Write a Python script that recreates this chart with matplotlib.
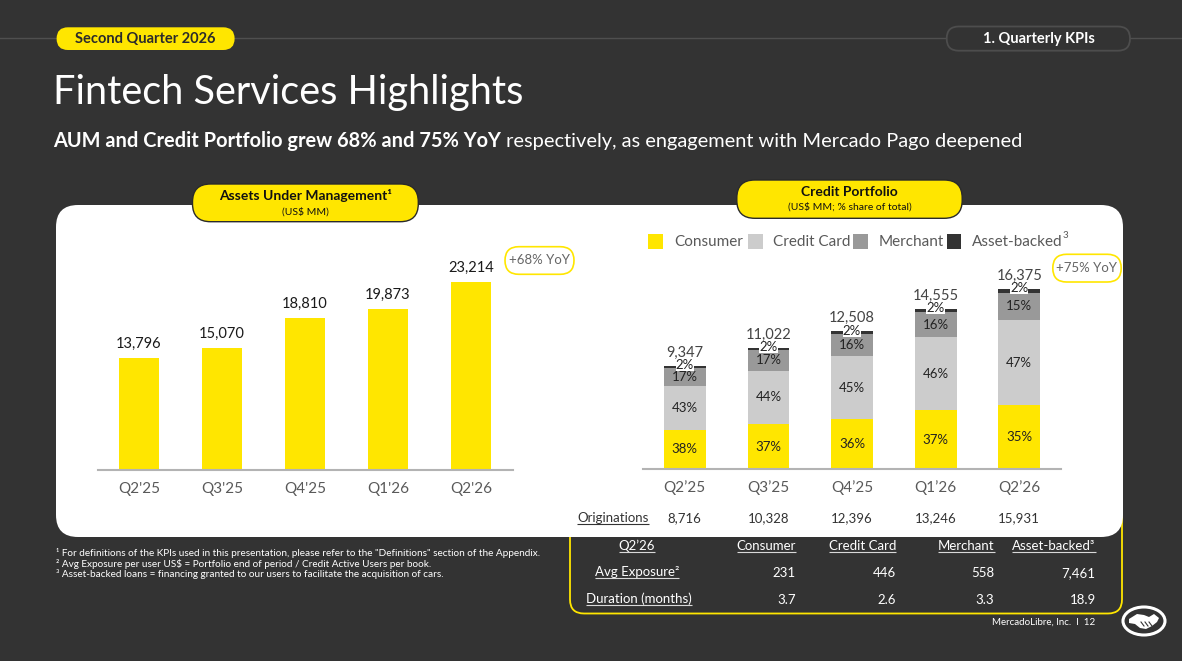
import matplotlib
matplotlib.use('Agg')
import matplotlib.pyplot as plt
from matplotlib.patches import FancyBboxPatch, Rectangle, Ellipse, Polygon
from matplotlib.transforms import blended_transform_factory
import numpy as np

# ---------------- data ----------------
aum_quarters = ["Q2'25", "Q3'25", "Q4'25", "Q1'26", "Q2'26"]
aum_values = [13796, 15070, 18810, 19873, 23214]

credit_quarters = ["Q2\u201925", "Q3\u201925", "Q4\u201925", "Q1\u201926", "Q2\u201926"]
credit_totals = [9347, 11022, 12508, 14555, 16375]
consumer_pct = [38, 37, 36, 37, 35]
card_pct = [43, 44, 45, 46, 47]
merchant_pct = [17, 17, 16, 16, 15]
asset_pct = [2, 2, 2, 2, 2]
originations = [8716, 10328, 12396, 13246, 15931]

segment_names = ["Consumer", "Credit Card", "Merchant", "Asset-backed"]

table_header = "Q2\u201926"
table_cols = ["Consumer", "Credit Card", "Merchant", "Asset-backed\u00b3"]
table_rows = ["Avg Exposure\u00b2", "Duration (months)"]
avg_exposure = ["231", "446", "558", "7,461"]
duration = ["3.7", "2.6", "3.3", "18.9"]

footnotes = [
    "\u00b9 For definitions of the KPIs used in this presentation, please refer to the \"Definitions\" section of the Appendix.",
    "\u00b2 Avg Exposure per user US$ = Portfolio end of period / Credit Active Users per book.",
    "\u00b3 Asset-backed loans = financing granted to our users to facilitate the acquisition of cars.",
]

# ---------------- style ----------------
W, H, DPI = 1182, 661, 100
BG = '#333333'
YEL = '#FFE600'
CARD = '#CCCCCC'
MERCH = '#999999'
ASSET = '#333333'
DARK = '#1a1a1a'
TICK = '#595959'
seg_colors = [YEL, CARD, MERCH, ASSET]

plt.rcParams['font.family'] = ['Lato', 'DejaVu Sans']

fig = plt.figure(figsize=(W / DPI, H / DPI), dpi=DPI, facecolor=BG)
ov = fig.add_axes([0, 0, 1, 1], zorder=0)
ov.set_xlim(0, W)
ov.set_ylim(H, 0)
ov.axis('off')
renderer = fig.canvas.get_renderer()


def ext(t):
    bb = t.get_window_extent(renderer)
    return bb.x0, bb.x1, H - bb.y1, H - bb.y0


def rbox(x0, y0, x1, y1, r, fc, ec='none', lw=0, z=1):
    p = FancyBboxPatch((x0, y0), x1 - x0, y1 - y0,
                       boxstyle=f"round,pad=0,rounding_size={r}",
                       fc=fc, ec=ec, lw=lw, zorder=z)
    ov.add_patch(p)
    return p


def underline(t, yoff, color, lw=0.8):
    x0, x1, y0, y1 = ext(t)
    yc = (y0 + y1) / 2
    ov.plot([x0, x1], [yc + yoff, yc + yoff], color=color, lw=lw, zorder=t.get_zorder(),
            solid_capstyle='butt')


def fax(x0, y0, x1, y1):
    return [x0 / W, 1 - y1 / H, (x1 - x0) / W, (y1 - y0) / H]


# ---------------- header ----------------
ov.plot([0, W], [38.3, 38.3], color='#4f4f4f', lw=1.0, zorder=1)
rbox(56.6, 27.3, 234.6, 50, 11.3, YEL, z=3)
ov.text(145.6, 39.3, "Second Quarter 2026", fontsize=10.5, fontweight='bold', color='#2b2b2b',
        ha='center', va='center', zorder=4)
rbox(946.7, 26.5, 1130, 50.7, 12, BG, ec='#4d4d4d', lw=1.3, z=3)
ov.text(1038.5, 39.3, "1. Quarterly KPIs", fontsize=10.5, fontweight='bold', color='white',
        ha='center', va='center', zorder=4)

title = ov.text(52.8, 104, "Fintech Services Highlights", fontsize=28, color='white',
                va='baseline', ha='left', zorder=4)
x0, x1, _, _ = ext(title)
title.set_fontsize(28 * 472 / (x1 - x0))

sb = ov.text(52.8, 147, "AUM and Credit Portfolio grew 68% and 75% YoY", fontsize=12.5,
             fontweight='bold', color='white', va='baseline', ha='left', zorder=4)
sr = ov.text(0, 147, " respectively, as engagement with Mercado Pago deepened", fontsize=12.5,
             color='white', va='baseline', ha='left', zorder=4)
wb = ext(sb)[1] - ext(sb)[0]
wr = ext(sr)[1] - ext(sr)[0]
sc = 974 / (wb + wr)
sb.set_fontsize(12.5 * sc)
sr.set_fontsize(12.5 * sc)
sr.set_x(ext(sb)[1])

# ---------------- panels ----------------
rbox(570, 500, 1122, 613.5, 14, 'none', ec=YEL, lw=1.3, z=1)
rbox(56, 205, 1123, 537, 22, 'white', z=2)

rbox(192.5, 184, 418.3, 221.7, 18, YEL, ec='#2a2a2a', lw=1.0, z=3)
ov.text(305.5, 195.5, "Assets Under Management\u00b9", fontsize=10, fontweight='bold', color='#111111',
        ha='center', va='center', zorder=4)
ov.text(305.5, 211.5, "(US$ MM)", fontsize=7.5, color='#111111', ha='center', va='center', zorder=4)

rbox(736.8, 180, 962.2, 218.3, 18, YEL, ec='#2a2a2a', lw=1.0, z=3)
ov.text(849.5, 191.7, "Credit Portfolio", fontsize=10, fontweight='bold', color='#111111',
        ha='center', va='center', zorder=4)
ov.text(849.5, 207, "(US$ MM; % share of total)", fontsize=7.5, color='#111111',
        ha='center', va='center', zorder=4)

# YoY pills
rbox(505, 246.7, 574, 274.3, 13.8, 'white', ec=YEL, lw=1.2, z=3)
ov.text(539.5, 260.5, "+68% YoY", fontsize=9.5, color='#666666', ha='center', va='center', zorder=4)
rbox(1052.8, 254.3, 1121.2, 282, 13.8, 'white', ec=YEL, lw=1.2, z=3)
ov.text(1087, 268.2, "+75% YoY", fontsize=9.5, color='#666666', ha='center', va='center', zorder=4)

# ---------------- AUM chart ----------------
axl = fig.add_axes(fax(97.5, 240, 512.5, 470), zorder=5)
axl.patch.set_visible(False)
xl = np.arange(len(aum_values))
axl.bar(xl, aum_values, width=0.48, color=YEL, zorder=2)
for i, v in enumerate(aum_values):
    axl.annotate(f"{v:,}", (i, v), xytext=(0, 10), textcoords='offset points',
                 ha='center', va='center', fontsize=10.5, color=DARK)
axl.set_xlim(-0.5, len(aum_values) - 0.5)
axl.set_ylim(0, 230 / 0.0081)
axl.set_xticks(xl, aum_quarters)
axl.set_yticks([])
axl.tick_params(axis='x', length=0, pad=9, labelsize=11, labelcolor=TICK)
for s in ['left', 'right', 'top']:
    axl.spines[s].set_visible(False)
axl.spines['bottom'].set_color('#b3b3b3')
axl.spines['bottom'].set_linewidth(1.5)

# ---------------- Credit chart ----------------
axc = fig.add_axes(fax(643, 240, 1061, 469), zorder=5)
axc.patch.set_visible(False)
xc = np.arange(len(credit_totals))
pcts = np.array([consumer_pct, card_pct, merchant_pct, asset_pct], dtype=float)
totals = np.array(credit_totals, dtype=float)
segs = pcts / pcts.sum(axis=0) * totals
bottom = np.zeros(len(totals))
for k in range(4):
    axc.bar(xc, segs[k], bottom=bottom, width=0.5, color=seg_colors[k], zorder=2)
    for i in range(len(totals)):
        yc = bottom[i] + segs[k][i] / 2
        if k < 3:
            axc.text(i, yc, f"{int(pcts[k][i])}%", ha='center', va='center', fontsize=9.5,
                     color='#222222', zorder=5)
        else:
            axc.annotate(f"{int(pcts[k][i])}%", (i, yc), xytext=(0, 1.6), textcoords='offset points',
                         ha='center', va='center', fontsize=9.5, color='#222222', zorder=4,
                         bbox=dict(boxstyle='square,pad=0', fc='white', ec='none'))
    bottom = bottom + segs[k]
for i, v in enumerate(credit_totals):
    axc.annotate(f"{v:,}", (i, v), xytext=(0, 9.6), textcoords='offset points',
                 ha='center', va='center', fontsize=10.5, color='#444444', zorder=4)
axc.set_xlim(-0.5, len(credit_totals) - 0.5)
axc.set_ylim(0, 229 / 0.011)
axc.set_xticks(xc, credit_quarters)
axc.set_yticks([])
axc.tick_params(axis='x', length=0, pad=8, labelsize=11, labelcolor=TICK)
for s in ['left', 'right', 'top']:
    axc.spines[s].set_visible(False)
axc.spines['bottom'].set_color('#b3b3b3')
axc.spines['bottom'].set_linewidth(1.5)

# Originations row
tr = blended_transform_factory(axc.transData, ov.transData)
to = ov.text(577.4, 517.7, "Originations", fontsize=9.5, color='#333333', ha='left', va='center', zorder=4)
underline(to, 6.3, '#333333', 0.8)
for i, v in enumerate(originations):
    axc.text(i, 517.7, f"{v:,}", transform=tr, fontsize=9.5, color='#333333',
             ha='center', va='center', clip_on=False)

# legend (manual)
leg_sq_x = [648, 748, 853.4, 946.6]
leg_tx_x = [674, 773, 879, 971.8]
for k in range(4):
    ov.add_patch(Rectangle((leg_sq_x[k], 234), 14.8, 14.5, fc=seg_colors[k], ec='none', zorder=4))
    t = ov.text(leg_tx_x[k], 241.5, segment_names[k], fontsize=11, color=TICK,
                ha='left', va='center', zorder=4)
x0, x1, _, _ = ext(t)
ov.text(x1 + 0.5, 236, "3", fontsize=7, color=TICK, ha='left', va='center', zorder=4)

# ---------------- table ----------------
TW = 'white'
th = ov.text(637, 545.7, table_header, fontsize=9.5, color=TW, ha='center', va='center', zorder=3)
underline(th, 6.6, '#d9d9d9')
col_right = [796, 896, 994.5, 1095.7]
for j, c in enumerate(table_cols):
    t = ov.text(col_right[j], 545.7, c, fontsize=9.5, color=TW, ha='right', va='center', zorder=3)
    underline(t, 6.6, '#d9d9d9')
row_y = [573, 600]
row_cx = [637, 639]
for r, (lab, vals) in enumerate(zip(table_rows, [avg_exposure, duration])):
    t = ov.text(row_cx[r], row_y[r] - 1.5, lab, fontsize=9.5, color=TW, ha='center', va='center', zorder=3)
    underline(t, 6.6, '#d9d9d9')
    for j, v in enumerate(vals):
        ov.text(col_right[j], row_y[r], v, fontsize=9.5, color=TW, ha='right', va='center', zorder=3)

# footnotes
for k, (fn, yy) in enumerate(zip(footnotes, [553, 563.7, 574.3])):
    ov.text(56.5, yy, fn, fontsize=7.2, color='white', ha='left', va='center', zorder=3)

# footer
ov.text(1095.5, 621.7, "MercadoLibre, Inc.  I  12", fontsize=7, color='white', ha='right',
        va='center', zorder=3)

# logo
ov.add_patch(Ellipse((1144, 621), 42, 28, fc='none', ec='white', lw=2.2, zorder=3))
cx, cy = 1144, 621
hand = [(-15, -2), (-7, -7), (0, -6), (5, -4), (10, -7), (15, -3), (13, 1), (8, 5),
        (2, 8), (-4, 7), (-9, 3), (-15, 2)]
ov.add_patch(Polygon([(cx + a, cy + b) for a, b in hand], closed=True, fc='white', ec='none', zorder=3))
for a in [-3, 1, 5]:
    ov.plot([cx + a, cx + a + 3], [cy + 1, cy + 5], color=BG, lw=0.8, zorder=4)

fig.savefig('out.png', dpi=DPI, facecolor=BG)
